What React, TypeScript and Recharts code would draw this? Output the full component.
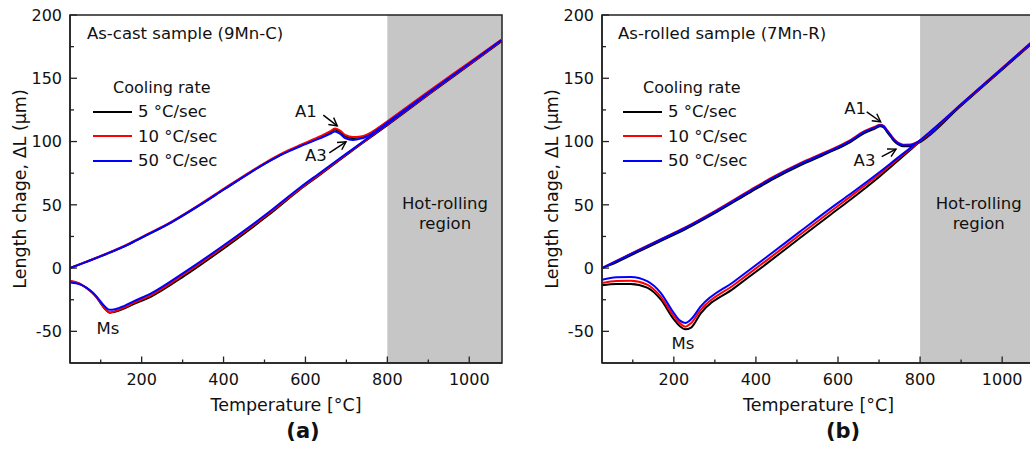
import React from 'react';
import {
  LineChart,
  Line,
  XAxis,
  YAxis,
  ReferenceArea,
  ReferenceLine,
  ReferenceDot,
  Legend,
  Label,
} from 'recharts';

const FONT = '"DejaVu Sans", "Liberation Sans", Arial, sans-serif';
const AXIS = '#222222';
const TEXT = '#111111';

// ---- axes ----
const T_DOMAIN: [number, number] = [25, 1080];
const DL_DOMAIN: [number, number] = [-75, 200];
const X_TICKS = [100, 200, 300, 400, 500, 600, 700, 800, 900, 1000];
const X_LABELED = [200, 400, 600, 800, 1000];
const Y_TICKS = [-50, -25, 0, 25, 50, 75, 100, 125, 150, 175, 200];
const Y_LABELED = [-50, 0, 50, 100, 150, 200];
const HOT_ROLLING_START = 800;

// ---- series ----
const RATES = ['5 °C/sec', '10 °C/sec', '50 °C/sec'];
const COLORS = ['#000000', '#ff0000', '#0000ff'];

// Panel (a) As-cast sample (9Mn-C)
const A_HEAT_T = [25, 60, 118, 170, 215, 272, 345, 402, 467, 500, 532, 560, 589, 635, 660, 672, 685, 698, 716, 735, 750, 781, 800, 900, 1000, 1078];
const A_HEAT_5 = [0, 4.3, 11.6, 19, 26.4, 36, 50.3, 62.3, 75.8, 82.3, 88.1, 92.6, 96.8, 103.2, 107.2, 109.5, 107.6, 104.2, 102.8, 103.3, 104.8, 110.9, 115.3, 138.8, 161.8, 180];
const A_HEAT_10 = [0, 4.5, 12, 19.5, 27, 36.6, 51, 63, 76.5, 83, 88.8, 93.3, 97.5, 104, 108, 110.3, 108.5, 105, 103.5, 104, 105.5, 111.6, 116, 139.5, 162.5, 180.5];
const A_HEAT_50 = [0, 4.3, 11.8, 19.2, 26.6, 36.2, 50.5, 62.5, 75.9, 82.4, 88.1, 92.4, 96.5, 102.5, 106, 108, 106, 102.5, 101.3, 102.3, 104, 110.5, 115, 138.6, 161.5, 179.5];

const A_COOL_T = [25, 40, 53, 65, 77, 90, 101, 112, 122, 135, 158, 180, 223, 305, 410, 508, 586, 630, 700, 749, 800, 900, 1000, 1078];
const A_COOL_5 = [-10.5, -11.6, -13.3, -15.7, -18.8, -23.2, -28.3, -32.8, -35.2, -34.6, -31.8, -28.5, -22.5, -6, 17.8, 41.5, 62, 72.5, 89.5, 101, 113, 137, 160.5, 179];
const A_COOL_10 = [-10, -11.2, -13, -15.5, -18.7, -23, -28, -32.5, -35, -34, -31, -27.5, -21.3, -4.5, 19, 42.5, 62.5, 73, 90, 101.5, 113.5, 137.5, 161, 179.5];
const A_COOL_50 = [-11.3, -12, -13.3, -15.5, -18.3, -22.5, -27, -31, -33, -32.5, -29.8, -26.3, -20, -3.2, 20.2, 43.5, 63.5, 74, 90.5, 102, 114, 138, 161.5, 180];

// Panel (b) As-rolled sample (7Mn-R)
const B_HEAT_T = [25, 60, 119, 170, 224, 305, 387, 443, 508, 573, 630, 662, 690, 703, 712, 719, 729, 739, 750, 759, 776, 796, 900, 1000, 1080];
const B_HEAT_5 = [0, 4.6, 13.8, 21.8, 30.1, 44.4, 60.1, 70.5, 81.2, 90.6, 99.6, 106.3, 110.3, 112, 111, 107.8, 103.6, 99.6, 97.1, 96.2, 96.3, 98.9, 128.5, 157.2, 180.3];
const B_HEAT_10 = [0, 5.7, 15.1, 23.1, 31.5, 46, 61.8, 72.2, 82.9, 92.2, 101.2, 107.9, 111.7, 113.2, 112.2, 109.2, 105.1, 101.1, 98.5, 97.5, 97.6, 100.1, 129.6, 158.1, 181];
const B_HEAT_50 = [0, 5.5, 14.8, 22.8, 31.1, 45.4, 61.2, 71.6, 82.3, 91.6, 100.6, 107.3, 111.2, 112.8, 111.8, 108.8, 104.6, 100.6, 98, 97, 97.1, 99.7, 129.2, 157.8, 180.8];

const B_COOL_T = [25, 60, 95, 135, 168, 200, 215, 228, 242, 265, 346, 427, 508, 581, 630, 700, 743, 796, 900, 1000, 1080];
const B_COOL_5 = [-13.6, -12.5, -12.6, -15.5, -24.8, -40.5, -46, -48.4, -47, -36, -16, 3.7, 24, 42, 54, 72, 84, 99, 128.5, 157, 179.5];
const B_COOL_10 = [-11.8, -10.2, -10, -13, -22.5, -38, -43.5, -46.3, -43.5, -33.2, -13.4, 6.3, 26.5, 44.5, 56.5, 74, 85.5, 99.5, 129, 157.5, 180];
const B_COOL_50 = [-9.3, -7.3, -7, -10.3, -19.5, -35.5, -41.5, -43.3, -40.5, -30.5, -10.8, 9, 29, 47, 58.5, 75.5, 86.5, 100, 129.3, 157.8, 180.3];

// ---- annotations (data coordinates) ----
type Note = { text: string; T: number; dL: number; anchor?: 'start' | 'middle' | 'end' };
type Arrow = { from: [number, number]; to: [number, number] };

const A_NOTES: Note[] = [
  { text: 'As-cast sample (9Mn-C)', T: 66.5, dL: 186.1, anchor: 'start' },
  { text: 'A1', T: 601, dL: 124.1 },
  { text: 'A3', T: 625.7, dL: 89.3 },
  { text: 'Ms', T: 117.8, dL: -47.6 },
  { text: 'Hot-rolling', T: 940.8, dL: 51.1 },
  { text: 'region', T: 940.8, dL: 35.2 },
];
const A_ARROWS: Arrow[] = [
  { from: [643.6, 120.9], to: [677.7, 112.4] },
  { from: [658.2, 91.1], to: [699, 99.8] },
];

const B_NOTES: Note[] = [
  { text: 'As-rolled sample (7Mn-R)', T: 64, dL: 186.1, anchor: 'start' },
  { text: 'A1', T: 641.5, dL: 126.2 },
  { text: 'A3', T: 664.6, dL: 85.1 },
  { text: 'Ms', T: 222.4, dL: -59.5 },
  { text: 'Hot-rolling', T: 942.9, dL: 51.1 },
  { text: 'region', T: 942.9, dL: 35.2 },
];
const B_ARROWS: Arrow[] = [
  { from: [670, 123.5], to: [704, 115.6] },
  { from: [706.5, 88], to: [741.4, 94] },
];

type Pt = { T: number; dL: number };
const zip = (ts: number[], vs: number[]): Pt[] => ts.map((T, i) => ({ T, dL: vs[i] }));

type PanelCfg = {
  heat: Pt[][];
  cool: Pt[][];
  notes: Note[];
  arrows: Arrow[];
  tag: string;
  tagDx: number;
};

const PANEL_A: PanelCfg = {
  heat: [zip(A_HEAT_T, A_HEAT_5), zip(A_HEAT_T, A_HEAT_10), zip(A_HEAT_T, A_HEAT_50)],
  cool: [zip(A_COOL_T, A_COOL_5), zip(A_COOL_T, A_COOL_10), zip(A_COOL_T, A_COOL_50)],
  notes: A_NOTES,
  arrows: A_ARROWS,
  tag: '(a)',
  tagDx: 17,
};

const PANEL_B: PanelCfg = {
  heat: [zip(B_HEAT_T, B_HEAT_5), zip(B_HEAT_T, B_HEAT_10), zip(B_HEAT_T, B_HEAT_50)],
  cool: [zip(B_COOL_T, B_COOL_5), zip(B_COOL_T, B_COOL_10), zip(B_COOL_T, B_COOL_50)],
  notes: B_NOTES,
  arrows: B_ARROWS,
  tag: '(b)',
  tagDx: 24.5,
};

// ---- custom renderers ----
const XTick = (props: any) => {
  const { x, y, payload } = props;
  const v = payload.value;
  const major = X_LABELED.includes(v);
  return (
    <g>
      <line x1={x} x2={x} y1={y} y2={y - (major ? 6.5 : 3.5)} stroke={AXIS} strokeWidth={1.3} />
      {major && (
        <text x={x} y={y + 22} textAnchor="middle" fontSize={16} fontFamily={FONT} fill={TEXT}>
          {v}
        </text>
      )}
    </g>
  );
};

const YTick = (props: any) => {
  const { x, y, payload } = props;
  const v = payload.value;
  const major = Y_LABELED.includes(v);
  return (
    <g>
      <line x1={x} x2={x + (major ? 7 : 4)} y1={y} y2={y} stroke={AXIS} strokeWidth={1.3} />
      {major && (
        <text x={x - 8} y={y + 5.8} textAnchor="end" fontSize={16} fontFamily={FONT} fill={TEXT}>
          {v}
        </text>
      )}
    </g>
  );
};

const noteShape = (n: Note) => (p: any) => (
  <text
    x={p.cx}
    y={p.cy}
    dy="0.36em"
    textAnchor={n.anchor ?? 'middle'}
    fontSize={16.5}
    fontFamily={FONT}
    fill={TEXT}
  >
    {n.text}
  </text>
);

const arrowShape = (p: any) => {
  const { x1, y1, x2, y2 } = p;
  const ang = Math.atan2(y2 - y1, x2 - x1);
  const L = 9;
  const spread = 0.5;
  const hx1 = x2 - L * Math.cos(ang - spread);
  const hy1 = y2 - L * Math.sin(ang - spread);
  const hx2 = x2 - L * Math.cos(ang + spread);
  const hy2 = y2 - L * Math.sin(ang + spread);
  return (
    <g>
      <line x1={x1} y1={y1} x2={x2} y2={y2} stroke="#000" strokeWidth={1.4} />
      <polyline
        points={`${hx1},${hy1} ${x2},${y2} ${hx2},${hy2}`}
        fill="none"
        stroke="#000"
        strokeWidth={1.4}
      />
    </g>
  );
};

const LegendContent = (props: any) => {
  const seen = new Set<string>();
  const items = (props.payload || [])
    .filter((p: any) => {
      if (!RATES.includes(p.value) || seen.has(p.value)) return false;
      seen.add(p.value);
      return true;
    })
    .sort((a: any, b: any) => RATES.indexOf(a.value) - RATES.indexOf(b.value));
  return (
    <div style={{ fontFamily: FONT, color: TEXT }}>
      <div style={{ height: 23.5, lineHeight: '23.5px', paddingLeft: 20, fontSize: 16 }}>Cooling rate</div>
      {items.map((it: any) => (
        <div key={it.value} style={{ height: 24.5, display: 'flex', alignItems: 'center', fontSize: 16.5 }}>
          <svg width={39} height={4} style={{ display: 'block' }}>
            <line x1={0} x2={39} y1={2} y2={2} stroke={it.color} strokeWidth={2} />
          </svg>
          <span style={{ marginLeft: 6, whiteSpace: 'nowrap' }}>{it.value}</span>
        </div>
      ))}
    </div>
  );
};

function Panel({ cfg, left, margin }: { cfg: PanelCfg; left: number; margin: any }) {
  return (
    <div style={{ position: 'absolute', left, top: 0 }}>
      <LineChart width={520} height={451} margin={margin}>
        <ReferenceArea
          x1={HOT_ROLLING_START}
          x2={T_DOMAIN[1]}
          y1={DL_DOMAIN[0]}
          y2={DL_DOMAIN[1]}
          fill="#c6c6c6"
          fillOpacity={1}
          stroke="none"
        />
        <ReferenceArea
          x1={T_DOMAIN[0]}
          x2={T_DOMAIN[1]}
          y1={DL_DOMAIN[0]}
          y2={DL_DOMAIN[1]}
          fill="none"
          fillOpacity={0}
          stroke={AXIS}
          strokeWidth={1.5}
        />
        <XAxis
          type="number"
          dataKey="T"
          domain={T_DOMAIN}
          allowDataOverflow
          ticks={X_TICKS}
          interval={0}
          tickSize={0}
          tickMargin={0}
          tickLine={false}
          tick={<XTick />}
          axisLine={{ stroke: AXIS, strokeWidth: 1.5 }}
          height={30}
        >
          <Label value="Temperature [°C]" position="center" dy={27} fontSize={17.5} fontFamily={FONT} fill={TEXT} />
          <Label
            value={cfg.tag}
            position="center"
            dx={cfg.tagDx}
            dy={53}
            fontSize={21}
            fontWeight="bold"
            fontFamily={FONT}
            fill={TEXT}
          />
        </XAxis>
        <YAxis
          type="number"
          dataKey="dL"
          domain={DL_DOMAIN}
          allowDataOverflow
          ticks={Y_TICKS}
          interval={0}
          tickSize={0}
          tickMargin={0}
          tickLine={false}
          tick={<YTick />}
          axisLine={{ stroke: AXIS, strokeWidth: 1.5 }}
          width={60}
        >
          <Label
            value="Length chage, ΔL (μm)"
            angle={-90}
            position="center"
            dx={-20}
            fontSize={17.5}
            fontFamily={FONT}
            fill={TEXT}
          />
        </YAxis>
        <Legend
          layout="vertical"
          align="center"
          verticalAlign="middle"
          wrapperStyle={{ left: 93, top: 76, width: 180, height: 100 }}
          content={<LegendContent />}
        />
        {cfg.heat.map((d, i) => (
          <Line
            key={`h${i}`}
            data={d}
            dataKey="dL"
            name={RATES[i]}
            type="monotone"
            stroke={COLORS[i]}
            strokeWidth={2}
            dot={false}
            activeDot={false}
            isAnimationActive={false}
          />
        ))}
        {cfg.cool.map((d, i) => (
          <Line
            key={`c${i}`}
            data={d}
            dataKey="dL"
            name={RATES[i]}
            legendType="none"
            type="monotone"
            stroke={COLORS[i]}
            strokeWidth={2}
            dot={false}
            activeDot={false}
            isAnimationActive={false}
          />
        ))}
        {cfg.arrows.map((a, i) => (
          <ReferenceLine
            key={`a${i}`}
            segment={[
              { x: a.from[0], y: a.from[1] },
              { x: a.to[0], y: a.to[1] },
            ]}
            stroke="#000"
            shape={arrowShape}
          />
        ))}
        {cfg.notes.map((n, i) => (
          <ReferenceDot key={`n${i}`} x={n.T} y={n.dL} r={0} shape={noteShape(n)} />
        ))}
      </LineChart>
    </div>
  );
}

export default function App() {
  return (
    <div
      style={{
        position: 'absolute',
        left: 0,
        top: 0,
        width: 1030,
        height: 451,
        overflow: 'hidden',
        background: '#ffffff',
      }}
    >
      <Panel cfg={PANEL_A} left={0} margin={{ top: 15, right: 18, bottom: 58, left: 10 }} />
      <Panel cfg={PANEL_B} left={530} margin={{ top: 15, right: 15, bottom: 58, left: 12 }} />
    </div>
  );
}
